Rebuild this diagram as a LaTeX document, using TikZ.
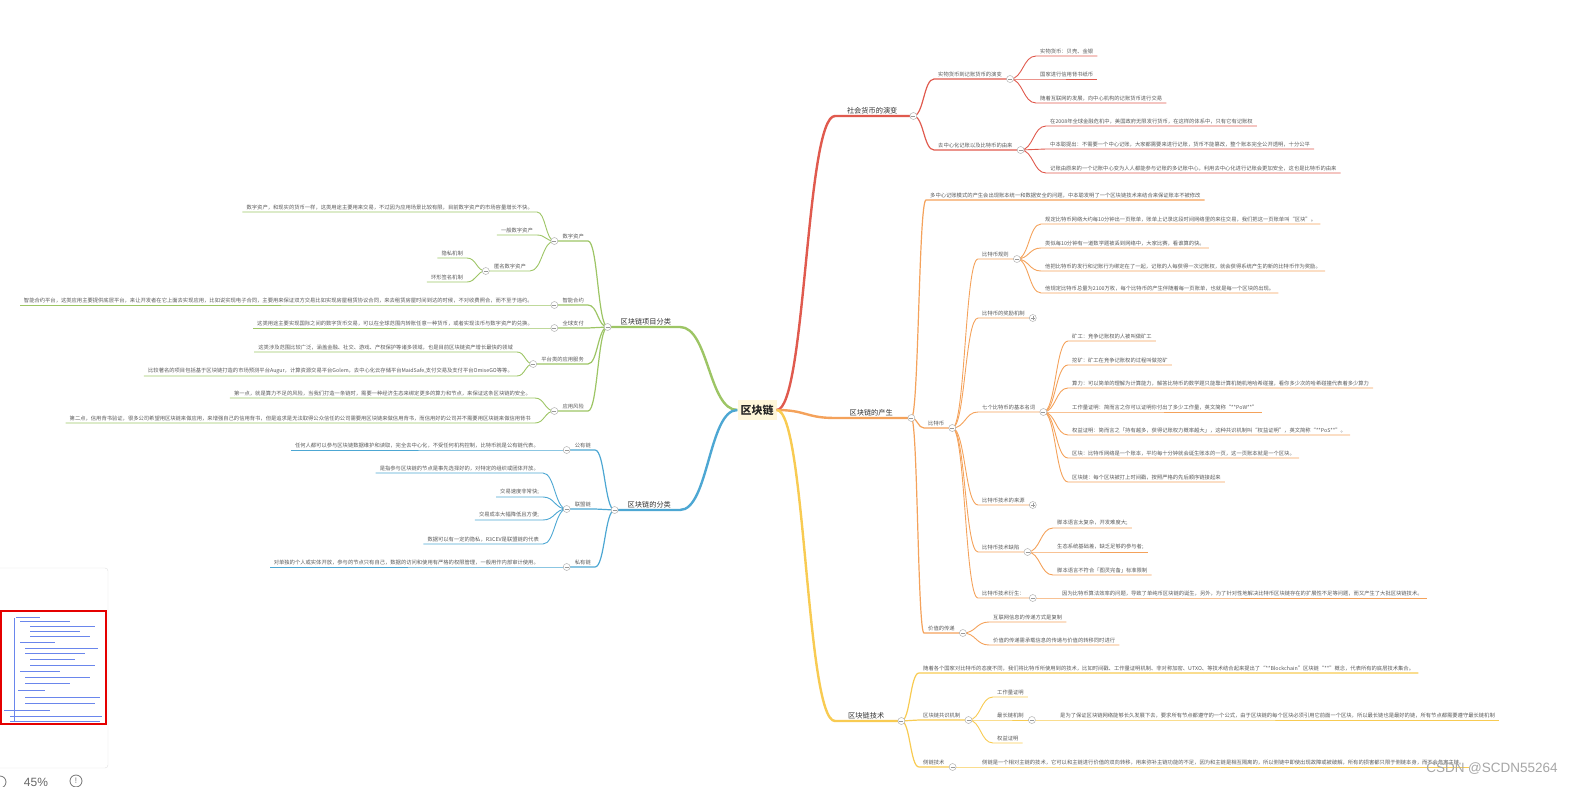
\documentclass[tikz,border=0pt]{standalone}
\usepackage{fontspec}
\usetikzlibrary{calc}
\newfontfamily\cjk{Noto Sans CJK SC}
\newfontfamily\wmfont{Liberation Sans}
\definecolor{redc}{HTML}{E05A4E}
\definecolor{orangec}{HTML}{F4A25B}
\definecolor{yellowc}{HTML}{F8CB52}
\definecolor{greenc}{HTML}{9DC565}
\definecolor{bluec}{HTML}{4DA7D3}
\definecolor{hubfill}{HTML}{FFF7DA}
\definecolor{minib}{HTML}{6A86EC}
\tikzset{
	hub/.style={font=\cjk\bfseries\fontsize{11}{12}\selectfont, fill=hubfill, inner xsep=3pt, inner ysep=5pt, text=black!85},
	topic/.style={font=\cjk\fontsize{7.2}{8}\selectfont, text=black!80, inner xsep=0pt, inner ysep=2pt},
	item/.style={font=\cjk\fontsize{5.3}{6}\selectfont, text=black!65, inner xsep=4pt, inner ysep=1.8pt},
	itemR/.style={item, anchor=south west},
	itemL/.style={item, anchor=south east},
	curvy/.style={to path={let \p1=(\tikztostart), \p2=(\tikztotarget) in
		.. controls ({(\x1+\x2)/2},\y1) and ({(\x1+\x2)/2},\y2) .. (\tikztotarget) \tikztonodes}},
	trunk/.style={line width=2.4pt},
	twig/.style={line width=1.2pt},
	leaf/.style={line width=0.9pt},
	knob/.style={circle, draw=black!30, fill=white, line width=0.5pt, minimum size=7pt, inner sep=0pt,
		path picture={\draw[black!40, line width=0.5pt] ([xshift=-2pt]path picture bounding box.center) -- ([xshift=2pt]path picture bounding box.center);}},
	knobplus/.style={knob,
		path picture={\draw[black!40, line width=0.5pt] ([xshift=-2pt]path picture bounding box.center) -- ([xshift=2pt]path picture bounding box.center)
		([yshift=-2pt]path picture bounding box.center) -- ([yshift=2pt]path picture bounding box.center);}},
}
\begin{document}
\begin{tikzpicture}[x=1pt,y=-1pt]
	\useasboundingbox (0,0) rectangle (1575,787);
	\node[hub] (hub) at (757,410) {区块链};

	% right: 社会货币的演变
	\node[topic, anchor=south west, minimum width=74pt] (r0) at (835,116) {社会货币的演变};
	\node[itemR] (r1) at (934,79) {实物货币到记账货币的演变};
	\node[itemR] (r1a) at (1036,56) {实物货币：贝壳、金银};
	\node[itemR] (r1b) at (1036,79) {国家进行信用背书纸币};
	\node[itemR] (r1c) at (1036,103) {随着互联网的发展，向中心机构的记账货币进行交易};
	\node[itemR] (r2) at (934,150) {去中心化记账以及比特币的由来};
	\node[itemR] (r2a) at (1046,126) {在2008年全球金融危机中，美国政府无限发行货币，在这样的体系中，只有它有记账权};
	\node[itemR] (r2b) at (1046,149) {中本聪提出：不需要一个中心记账，大家都需要来进行记账，货币不能篡改，整个账本完全公开透明，十分公平};
	\node[itemR] (r2c) at (1046,173) {记账由原来的一个记账中心变为人人都能参与记账的多记账中心，利用去中心化进行记账会更加安全，这也是比特币的由来};

	% right: 区块链的产生
	\node[topic, anchor=south west, minimum width=72pt] (o0) at (835,418) {区块链的产生};
	\node[itemR] (o1) at (926,200) {多中心记账模式的产生会出现账本统一和数据安全的问题，中本聪发明了一个区块链技术来结合来保证账本不被修改};
	\node[itemR] (o2) at (924,428) {比特币};
	\node[itemR] (o2a) at (978,259) {比特币规则};
	\node[itemR] (o2a1) at (1041,224) {规定比特币网络大约每10分钟出一页账单，账单上记录这段时间网络里的来往交易，我们把这一页账单叫“区块”。};
	\node[itemR] (o2a2) at (1041,248) {类似每10分钟有一道数学题被丢到网络中，大家比赛，看谁算的快。};
	\node[itemR] (o2a3) at (1041,271) {他把比特币的发行和记账行为绑定在了一起，记账的人每获得一次记账权，就会获得系统产生的新的比特币作为奖励。};
	\node[itemR] (o2a4) at (1041,293) {他规定比特币总量为2100万枚，每个比特币的产生伴随着每一页账单，也就是每一个区块的出现。};
	\node[itemR] (o2b) at (978,318) {比特币的奖励机制};
	\node[itemR] (o2c) at (978,412) {七个比特币的基本名词};
	\node[itemR] (o2c1) at (1068,341) {矿工：竞争记账权的人被叫做矿工};
	\node[itemR] (o2c2) at (1068,365) {挖矿：矿工在竞争记账权的过程叫做挖矿};
	\node[itemR] (o2c3) at (1068,388) {算力：可以简单的理解为计算能力，解答比特币的数学题只能靠计算机随机地哈希碰撞，看你多少次的哈希碰撞代表着多少算力};
	\node[itemR] (o2c4) at (1068,412) {工作量证明：简而言之你可以证明你付出了多少工作量，英文简称“**PoW**”};
	\node[itemR] (o2c5) at (1068,435) {权益证明：简而言之「持有越多，获得记账权力概率越大」，这种共识机制叫“权益证明”，英文简称“**PoS**”。};
	\node[itemR] (o2c6) at (1068,458) {区块：比特币网络是一个账本，平均每十分钟就会诞生账本的一页，这一页账本就是一个区块。};
	\node[itemR] (o2c7) at (1068,482) {区块链：每个区块被打上时间戳，按照严格的先后顺序链接起来};
	\node[itemR] (o2d) at (978,505) {比特币技术的来源};
	\node[itemR] (o2e) at (978,552) {比特币技术缺陷};
	\node[itemR] (o2e1) at (1053,528) {脚本语言太复杂，开发难度大;};
	\node[itemR] (o2e2) at (1053,552) {生态系统基础差，缺乏足够的参与者;};
	\node[itemR] (o2e3) at (1053,575) {脚本语言不符合「图灵完备」标准限制};
	\node[itemR] (o2f) at (978,598) {比特币技术衍生：};
	\node[itemR] (o2f1) at (1058,598) {因为比特币算法效率的问题，导致了单纯币区块链的诞生，另外，为了针对性地解决比特币区块链存在的扩展性不足等问题，而又产生了大批区块链技术。};
	\node[itemR] (o3) at (924,633) {价值的传递};
	\node[itemR] (o3a) at (989,622) {互联网信息的传递方式是复制};
	\node[itemR] (o3b) at (989,645) {价值的传递需承载信息的传递与价值的转移同时进行};

	% right: 区块链技术
	\node[topic, anchor=south west, minimum width=62pt] (y0) at (835,721) {区块链技术};
	\node[itemR] (y1) at (919,673) {随着各个国家对比特币的态度不同，我们将比特币所使用到的技术，比如时间戳、工作量证明机制、非对称加密、UTXO、等技术结合起来提出了“**Blockchain”区块链“**”概念，代表所有的底层技术集合。};
	\node[itemR] (y2) at (919,720) {区块链共识机制};
	\node[itemR] (y2a) at (993,697) {工作量证明};
	\node[itemR] (y2b) at (993,720) {最长链机制};
	\node[itemR] (y2b1) at (1056,720) {是为了保证区块链网络能够长久发展下去，要求所有节点都遵守的一个公式，由于区块链的每个区块必须引用它前面一个区块，所以最长链也是最好的链，所有节点都需要遵守最长链机制};
	\node[itemR] (y2c) at (993,743) {权益证明};
	\node[itemR] (y3) at (919,767) {侧链技术};
	\node[itemR] (y3a) at (978,767) {侧链是一个相对主链的技术，它可以和主链进行价值的双向转移，用来弥补主链功能的不足，因为和主链是相互隔离的，所以侧链中即使出现故障或被破解，所有的损害都只限于侧链本身，而不会危害主链。};

	% left: 区块链项目分类
	\node[topic, anchor=south east, minimum width=68pt] (g0) at (680,327) {区块链项目分类};
	\node[itemL] (g1) at (588,241) {数字资产};
	\node[itemL] (g1a) at (537,212) {数字资产，和现实的货币一样，这类用途主要用来交易，不过因为应用场景比较有限，目前数字资产的市场容量增长不快。};
	\node[itemL] (g1b) at (537,235) {一般数字资产};
	\node[itemL] (g1c) at (530,271) {匿名数字资产};
	\node[itemL] (g1c1) at (467,258) {隐私机制};
	\node[itemL] (g1c2) at (467,282) {环形签名机制};
	\node[itemL] (g2) at (588,305) {智能合约};
	\node[itemL] (g2a) at (537,305) {智能合约平台，这类应用主要提供底层平台，来让开发者在它上面去实现应用，比如说实现电子合同，主要用来保证双方交易比如实现房屋租赁协议合同，来去租赁房屋时间到达的时候，不对收费照合，而不至于违约。};
	\node[itemL] (g3) at (588,328) {全球支付};
	\node[itemL] (g3a) at (537,328) {这类用途主要实现国际之间的数字货币交易，可以在全球范围内转账任意一种货币，或者实现法币与数字资产的兑换。};
	\node[itemL] (g4) at (588,364) {平台类的应用服务};
	\node[itemL] (g4a) at (517,352) {这类涉及范围比较广泛，涵盖金融、社交、游戏、产权保护等诸多领域，也是目前区块链资产增长最快的领域};
	\node[itemL] (g4b) at (517,376) {比较著名的项目包括基于区块链打造的市场预测平台Augur，计算资源交易平台Golem，去中心化云存储平台MaidSafe,支付交易及支付平台OmiseGO等等。};
	\node[itemL] (g5) at (588,411) {应用风险};
	\node[itemL] (g5a) at (535,398) {第一点，就是算力不足的风险，当我们打造一条链时，需要一种经济生态来绑定更多的算力和节点，来保证这条区块链的安全。};
	\node[itemL] (g5b) at (535,423) {第二点，信用背书验证，很多公司希望用区块链来做应用，来增强自己的信用背书，但是追求是无法取得公众信任的公司需要用区块链来做信用背书，而信用好的公司并不需要用区块链来做信用背书};

	% left: 区块链的分类
	\node[topic, anchor=south east, minimum width=61pt] (b0) at (680,510) {区块链的分类};
	\node[itemL] (b1) at (595,450) {公有链};
	\node[itemL] (b1a) at (543,450) {任何人都可以参与区块链数据维护和读取，完全去中心化，不受任何机构控制，比特币就是公有链代表。};
	\node[itemL] (b2) at (595,509) {联盟链};
	\node[itemL] (b2a) at (543,473) {是指参与区块链的节点是事先选择好的，对特定的组织或团体开放。};
	\node[itemL] (b2b) at (543,497) {交易速度非常快;};
	\node[itemL] (b2c) at (543,520) {交易成本大幅降低且方便;};
	\node[itemL] (b2d) at (543,544) {数据可以有一定的隐私，R3CEV是联盟链的代表};
	\node[itemL] (b3) at (595,567) {私有链};
	\node[itemL] (b3a) at (543,567) {对单独的个人或实体开放，参与的节点只有自己，数据的访问和使用有严格的权限管理，一般用作内部审计使用。};

	% knob points
	\coordinate (r0k) at ([xshift=4pt]r0.south east);
	\coordinate (r1k) at ([xshift=4pt]r1.south east);
	\coordinate (r2k) at ([xshift=4pt]r2.south east);
	\coordinate (o0k) at ([xshift=4pt]o0.south east);
	\coordinate (o2k) at ([xshift=4pt]o2.south east);
	\coordinate (o2ak) at ([xshift=4pt]o2a.south east);
	\coordinate (o2bk) at ([xshift=4pt]o2b.south east);
	\coordinate (o2ck) at ([xshift=4pt]o2c.south east);
	\coordinate (o2dk) at ([xshift=4pt]o2d.south east);
	\coordinate (o2ek) at ([xshift=4pt]o2e.south east);
	\coordinate (o2fk) at ([xshift=4pt]o2f.south east);
	\coordinate (o3k) at ([xshift=4pt]o3.south east);
	\coordinate (y0k) at ([xshift=4pt]y0.south east);
	\coordinate (y2k) at ([xshift=4pt]y2.south east);
	\coordinate (y2bk) at ([xshift=4pt]y2b.south east);
	\coordinate (y3k) at ([xshift=4pt]y3.south east);
	\coordinate (g0k) at ([xshift=-4pt]g0.south west);
	\coordinate (g1k) at ([xshift=-4pt]g1.south west);
	\coordinate (g1ck) at ([xshift=-4pt]g1c.south west);
	\coordinate (g2k) at ([xshift=-4pt]g2.south west);
	\coordinate (g3k) at ([xshift=-4pt]g3.south west);
	\coordinate (g4k) at ([xshift=-4pt]g4.south west);
	\coordinate (g5k) at ([xshift=-4pt]g5.south west);
	\coordinate (b0k) at ([xshift=-4pt]b0.south west);
	\coordinate (b1k) at ([xshift=-4pt]b1.south west);
	\coordinate (b2k) at ([xshift=-4pt]b2.south west);
	\coordinate (b3k) at ([xshift=-4pt]b3.south west);

	% red lines
	\draw[redc, trunk] (hub.east) to[curvy] (r0.south west) -- (r0k);
	\draw[redc, twig] (r0k) to[curvy] (r1.south west) -- (r1k);
	\draw[redc, twig] (r0k) to[curvy] (r2.south west) -- (r2k);
	\draw[redc, leaf] (r1k) to[curvy] (r1a.south west) -- (r1a.south east);
	\draw[redc, leaf] (r1k) to[curvy] (r1b.south west) -- (r1b.south east);
	\draw[redc, leaf] (r1k) to[curvy] (r1c.south west) -- (r1c.south east);
	\draw[redc, leaf] (r2k) to[curvy] (r2a.south west) -- (r2a.south east);
	\draw[redc, leaf] (r2k) to[curvy] (r2b.south west) -- (r2b.south east);
	\draw[redc, leaf] (r2k) to[curvy] (r2c.south west) -- (r2c.south east);

	% orange lines
	\draw[orangec, trunk] (hub.east) to[curvy] (o0.south west) -- (o0k);
	\draw[orangec, twig] (o0k) to[curvy] (o1.south west) -- (o1.south east);
	\draw[orangec, twig] (o0k) to[curvy] (o2.south west) -- (o2k);
	\draw[orangec, twig] (o0k) to[curvy] (o3.south west) -- (o3k);
	\draw[orangec, leaf] (o2k) to[curvy] (o2a.south west) -- (o2ak);
	\draw[orangec, leaf] (o2k) to[curvy] (o2b.south west) -- (o2bk);
	\draw[orangec, leaf] (o2k) to[curvy] (o2c.south west) -- (o2ck);
	\draw[orangec, leaf] (o2k) to[curvy] (o2d.south west) -- (o2dk);
	\draw[orangec, leaf] (o2k) to[curvy] (o2e.south west) -- (o2ek);
	\draw[orangec, leaf] (o2k) to[curvy] (o2f.south west) -- (o2fk);
	\draw[orangec, leaf] (o2ak) to[curvy] (o2a1.south west) -- (o2a1.south east);
	\draw[orangec, leaf] (o2ak) to[curvy] (o2a2.south west) -- (o2a2.south east);
	\draw[orangec, leaf] (o2ak) to[curvy] (o2a3.south west) -- (o2a3.south east);
	\draw[orangec, leaf] (o2ak) to[curvy] (o2a4.south west) -- (o2a4.south east);
	\draw[orangec, leaf] (o2ck) to[curvy] (o2c1.south west) -- (o2c1.south east);
	\draw[orangec, leaf] (o2ck) to[curvy] (o2c2.south west) -- (o2c2.south east);
	\draw[orangec, leaf] (o2ck) to[curvy] (o2c3.south west) -- (o2c3.south east);
	\draw[orangec, leaf] (o2ck) to[curvy] (o2c4.south west) -- (o2c4.south east);
	\draw[orangec, leaf] (o2ck) to[curvy] (o2c5.south west) -- (o2c5.south east);
	\draw[orangec, leaf] (o2ck) to[curvy] (o2c6.south west) -- (o2c6.south east);
	\draw[orangec, leaf] (o2ck) to[curvy] (o2c7.south west) -- (o2c7.south east);
	\draw[orangec, leaf] (o2ek) to[curvy] (o2e1.south west) -- (o2e1.south east);
	\draw[orangec, leaf] (o2ek) to[curvy] (o2e2.south west) -- (o2e2.south east);
	\draw[orangec, leaf] (o2ek) to[curvy] (o2e3.south west) -- (o2e3.south east);
	\draw[orangec, leaf] (o2fk) -- (o2f1.south west) -- (o2f1.south east);
	\draw[orangec, leaf] (o3k) to[curvy] (o3a.south west) -- (o3a.south east);
	\draw[orangec, leaf] (o3k) to[curvy] (o3b.south west) -- (o3b.south east);

	% yellow lines
	\draw[yellowc, trunk] (hub.east) to[curvy] (y0.south west) -- (y0k);
	\draw[yellowc, twig] (y0k) to[curvy] (y1.south west) -- (y1.south east);
	\draw[yellowc, twig] (y0k) to[curvy] (y2.south west) -- (y2k);
	\draw[yellowc, twig] (y0k) to[curvy] (y3.south west) -- (y3k);
	\draw[yellowc, leaf] (y2k) to[curvy] (y2a.south west) -- (y2a.south east);
	\draw[yellowc, leaf] (y2k) to[curvy] (y2b.south west) -- (y2bk);
	\draw[yellowc, leaf] (y2k) to[curvy] (y2c.south west) -- (y2c.south east);
	\draw[yellowc, leaf] (y2bk) -- (y2b1.south west) -- (y2b1.south east);
	\draw[yellowc, leaf] (y3k) -- (y3a.south west) -- (y3a.south east);

	% green lines
	\draw[greenc, trunk] (hub.west) to[curvy] (g0.south east) -- (g0k);
	\draw[greenc, twig] (g0k) to[curvy] (g1.south east) -- (g1k);
	\draw[greenc, twig] (g0k) to[curvy] (g2.south east) -- (g2k);
	\draw[greenc, twig] (g0k) to[curvy] (g3.south east) -- (g3k);
	\draw[greenc, twig] (g0k) to[curvy] (g4.south east) -- (g4k);
	\draw[greenc, twig] (g0k) to[curvy] (g5.south east) -- (g5k);
	\draw[greenc, leaf] (g1k) to[curvy] (g1a.south east) -- (g1a.south west);
	\draw[greenc, leaf] (g1k) to[curvy] (g1b.south east) -- (g1b.south west);
	\draw[greenc, leaf] (g1k) to[curvy] (g1c.south east) -- (g1ck);
	\draw[greenc, leaf] (g1ck) to[curvy] (g1c1.south east) -- (g1c1.south west);
	\draw[greenc, leaf] (g1ck) to[curvy] (g1c2.south east) -- (g1c2.south west);
	\draw[greenc, leaf] (g2k) -- (g2a.south east) -- (g2a.south west);
	\draw[greenc, leaf] (g3k) -- (g3a.south east) -- (g3a.south west);
	\draw[greenc, leaf] (g4k) to[curvy] (g4a.south east) -- (g4a.south west);
	\draw[greenc, leaf] (g4k) to[curvy] (g4b.south east) -- (g4b.south west);
	\draw[greenc, leaf] (g5k) to[curvy] (g5a.south east) -- (g5a.south west);
	\draw[greenc, leaf] (g5k) to[curvy] (g5b.south east) -- (g5b.south west);

	% blue lines
	\draw[bluec, trunk] (hub.west) to[curvy] (b0.south east) -- (b0k);
	\draw[bluec, twig] (b0k) to[curvy] (b1.south east) -- (b1k);
	\draw[bluec, twig] (b0k) to[curvy] (b2.south east) -- (b2k);
	\draw[bluec, twig] (b0k) to[curvy] (b3.south east) -- (b3k);
	\draw[bluec, leaf] (b1k) -- (b1a.south east) -- (b1a.south west);
	\draw[bluec, leaf] (b2k) to[curvy] (b2a.south east) -- (b2a.south west);
	\draw[bluec, leaf] (b2k) to[curvy] (b2b.south east) -- (b2b.south west);
	\draw[bluec, leaf] (b2k) to[curvy] (b2c.south east) -- (b2c.south west);
	\draw[bluec, leaf] (b2k) to[curvy] (b2d.south east) -- (b2d.south west);
	\draw[bluec, leaf] (b3k) -- (b3a.south east) -- (b3a.south west);

	% knobs on top
	\node[knob] (r0o) at (r0k) {};
	\node[knob] (r1o) at (r1k) {};
	\node[knob] (r2o) at (r2k) {};
	\node[knob] (o0o) at (o0k) {};
	\node[knob] (o2o) at (o2k) {};
	\node[knob] (o2ao) at (o2ak) {};
	\node[knobplus] (o2bo) at (o2bk) {};
	\node[knob] (o2co) at (o2ck) {};
	\node[knobplus] (o2do) at (o2dk) {};
	\node[knob] (o2eo) at (o2ek) {};
	\node[knob] (o2fo) at (o2fk) {};
	\node[knob] (o3o) at (o3k) {};
	\node[knob] (y0o) at (y0k) {};
	\node[knob] (y2o) at (y2k) {};
	\node[knob] (y2bo) at (y2bk) {};
	\node[knob] (y3o) at (y3k) {};
	\node[knob] (g0o) at (g0k) {};
	\node[knob] (g1o) at (g1k) {};
	\node[knob] (g1co) at (g1ck) {};
	\node[knob] (g2o) at (g2k) {};
	\node[knob] (g3o) at (g3k) {};
	\node[knob] (g4o) at (g4k) {};
	\node[knob] (g5o) at (g5k) {};
	\node[knob] (b0o) at (b0k) {};
	\node[knob] (b1o) at (b1k) {};
	\node[knob] (b2o) at (b2k) {};
	\node[knob] (b3o) at (b3k) {};

	% overview panel, bottom left
	\draw[black!12, fill=white, rounded corners=3pt] (-4,568) rectangle (108,768);
	\draw[minib, line width=0.8pt] (14,618) -- (14,722);
	\draw[minib, line width=1pt] (16,617) -- (40,617);
	\draw[minib, line width=1pt] (20,621) -- (70,621);
	\draw[minib, line width=1pt] (30,626) -- (95,626);
	\draw[minib, line width=1pt] (30,631) -- (80,631);
	\draw[minib, line width=1pt] (30,636) -- (90,636);
	\draw[minib, line width=1pt] (20,642) -- (55,642);
	\draw[minib, line width=1pt] (25,648) -- (98,648);
	\draw[minib, line width=1pt] (25,653) -- (85,653);
	\draw[minib, line width=1pt] (30,659) -- (75,659);
	\draw[minib, line width=1pt] (30,665) -- (95,665);
	\draw[minib, line width=1pt] (20,671) -- (60,671);
	\draw[minib, line width=1pt] (25,677) -- (90,677);
	\draw[minib, line width=1pt] (25,683) -- (70,683);
	\draw[minib, line width=1pt] (18,690) -- (45,690);
	\draw[minib, line width=1pt] (25,697) -- (100,697);
	\draw[minib, line width=1pt] (25,703) -- (95,703);
	\draw[minib, line width=1pt] (4,710) -- (50,710);
	\draw[minib, line width=1pt] (10,716) -- (102,716);
	\draw[minib, line width=1pt] (10,721) -- (100,721);
	\draw[red!90!black, line width=1.6pt] (1,611) rectangle (106,724);
	\node[font=\wmfont\fontsize{12}{13}\selectfont, text=black!60] (zoompct) at (36,782) {45\%};
	\draw[black!55, line width=0.8pt] (0,782) circle (6);
	\draw[black!55, line width=0.8pt] (76,781) circle (6);
	\node[font=\wmfont\fontsize{8}{9}\selectfont, text=black!55] (zoomicon) at (76,781) {!};

	% watermark
	\node[font=\wmfont\fontsize{13.5}{15}\selectfont, text=black!35] (mark) at (1492,769) {CSDN @SCDN55264};
\end{tikzpicture}
\end{document}
